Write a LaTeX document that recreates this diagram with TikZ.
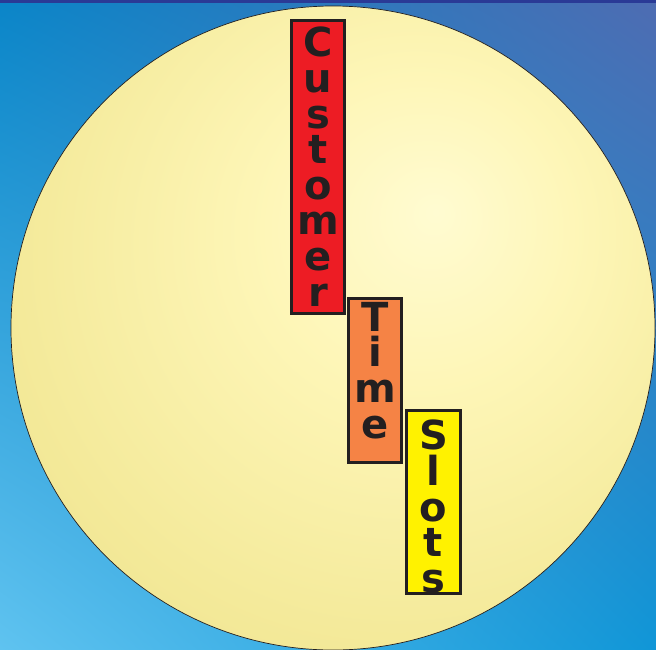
\documentclass[tikz,border=0pt]{standalone}
\usepackage{fontspec}
\newfontfamily\slotfont{DejaVu Sans}
\usetikzlibrary{positioning,shadings}
\definecolor{inkdark}{RGB}{35,31,32}
\definecolor{custred}{RGB}{237,28,36}
\definecolor{timeorange}{RGB}{245,131,69}
\definecolor{slotyellow}{RGB}{255,242,0}
\definecolor{skytl}{RGB}{10,133,200}
\definecolor{skytr}{RGB}{78,108,178}
\definecolor{skybl}{RGB}{95,195,240}
\definecolor{skybr}{RGB}{16,150,215}
\definecolor{topband}{RGB}{42,58,150}
\pgfdeclareradialshading{dialglow}{\pgfpoint{8bp}{9bp}}{%
  rgb(0bp)=(1,0.985,0.82);
  rgb(12bp)=(0.995,0.965,0.72);
  rgb(30bp)=(0.955,0.915,0.6);
  rgb(45bp)=(0.91,0.87,0.53);
  rgb(75bp)=(0.9,0.86,0.52)}

\begin{document}
\begin{tikzpicture}[
    x=1pt, y=-1pt,
    slotbox/.style={
        rectangle, draw=inkdark, line width=3pt, inner sep=0pt
    },
    letters/.style={
        font=\slotfont\bfseries\fontsize{40}{35.6}\selectfont,
        text=inkdark, align=center, inner sep=0pt, anchor=north
    }
]
\useasboundingbox (0,0) rectangle (656,649);

% backdrop
\shade[upper left=skytl, upper right=skytr, lower left=skybl, lower right=skybr]
    (0,0) rectangle (656,649);
\fill[topband] (0,0) rectangle (656,2.5);

% dial
\shade[shading=dialglow, draw=inkdark, line width=0.7pt] (333,328) circle (322);

% boxes
\node[slotbox, fill=custred, minimum width=53pt, minimum height=293pt] (custbox) at (318,167) {};
\node[slotbox, fill=timeorange, minimum width=53pt, minimum height=164pt] (timebox) at (375,380.5) {};
\node[slotbox, fill=slotyellow, minimum width=54pt, minimum height=183pt] (slotsbox) at (433.5,502) {};

% words
\node[letters] (custword) at (318,27) {C\\u\\s\\t\\o\\m\\e\\r};
\node[letters] (timeword) at (375,302) {T\\i\\m\\e};
\node[letters] (slotsword) at (433.5,420) {S\\l\\o\\t\\s};

\end{tikzpicture}
\end{document}
